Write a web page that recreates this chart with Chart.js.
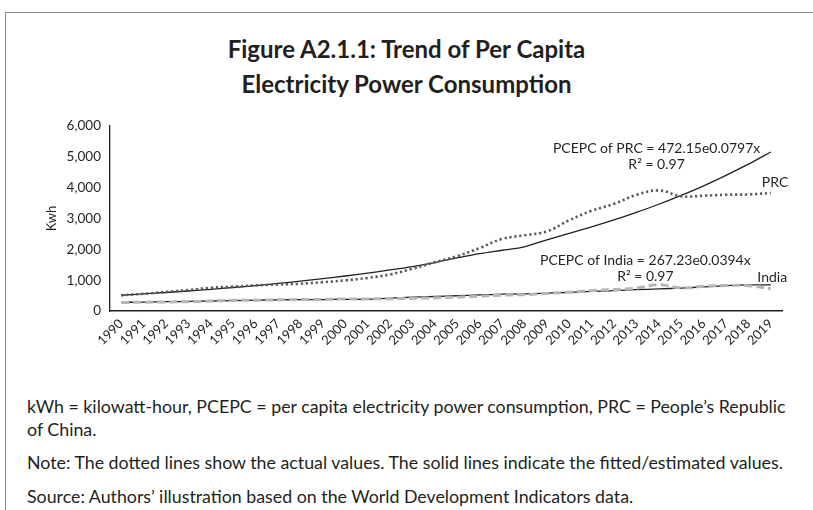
<!DOCTYPE html>
<html>
<head>
<meta charset="utf-8">
<script src="https://cdn.jsdelivr.net/npm/chart.js@4"></script>
<style>
  html, body { margin: 0; padding: 0; background: #fff; }
  body { width: 813px; height: 510px; position: relative; overflow: hidden; font-family: Lato, "Open Sans", sans-serif; color: #231f20; }
  .frame { position: absolute; left: 5px; top: 12px; width: 900px; height: 600px; border-left: 1px solid #8a8a8a; border-top: 1px solid #8a8a8a; }
  .title { position: absolute; left: 0; width: 813px; top: 31px; text-align: center; font-weight: bold; font-size: 24px; line-height: 35px; }
  .chart-box { position: absolute; left: 0; top: 100px; width: 813px; height: 255px; }
  .note { position: absolute; left: 27px; font-size: 17.8px; line-height: 23px; white-space: nowrap; }
</style>
</head>
<body>
<div class="frame"></div>
<div class="title">Figure A2.1.1: Trend of Per Capita<br>Electricity Power Consumption</div>
<div class="chart-box"><canvas id="trendChart" width="813" height="255"></canvas></div>
<div class="note" style="top:395px">kWh = kilowatt-hour, PCEPC = per capita electricity power consumption, PRC = People’s Republic<br>of China.</div>
<div class="note" style="top:451px">Note: The dotted lines show the actual values. The solid lines indicate the fitted/estimated values.</div>
<div class="note" style="top:485px">Source: Authors’ illustration based on the World Development Indicators data.</div>
<script>
const years = ["1990","1991","1992","1993","1994","1995","1996","1997","1998","1999",
  "2000","2001","2002","2003","2004","2005","2006","2007","2008","2009",
  "2010","2011","2012","2013","2014","2015","2016","2017","2018","2019"];

// actual values (dotted / dashed)
const prcActual = [511, 558, 619, 683, 754, 790, 830, 860, 885, 935,
  993, 1073, 1185, 1368, 1582, 1779, 2042, 2335, 2455, 2580,
  2944, 3250, 3475, 3766, 3910, 3720, 3740, 3770, 3780, 3825];
const indiaActual = [273, 286, 294, 302, 322, 345, 350, 361, 375, 377,
  392, 392, 399, 411, 426, 449, 480, 514, 530, 570,
  609, 660, 697, 741, 850, 750, 800, 825, 820, 725];

// fitted values (solid)
const prcFitted = [511, 554, 600, 649, 703, 762, 825, 893, 967, 1048,
  1135, 1229, 1331, 1441, 1570, 1720, 1860, 1970, 2080, 2310,
  2520, 2730, 2955, 3200, 3462, 3750, 4060, 4400, 4762, 5157];
const indiaFitted = [278, 289, 301, 313, 325, 338, 352, 362, 368, 372,
  376, 382, 420, 450, 470, 495, 520, 545, 555, 580,
  605, 635, 660, 690, 715, 745, 780, 820, 845, 850];

const yTicks = [0, 1000, 2000, 3000, 4000, 5000, 6000];

const FONT = "Lato, 'Open Sans', sans-serif";

const annotations = {
  id: "annotations",
  afterDatasetsDraw(chart) {
    const ctx = chart.ctx;
    const x = chart.scales.x;
    const y = chart.scales.y;
    ctx.save();
    ctx.fillStyle = "#231f20";
    ctx.font = "14px " + FONT;
    ctx.textBaseline = "middle";
    ctx.textAlign = "center";
    ctx.fillText("PCEPC of PRC = 472.15e0.0797x", x.getPixelForValue(23.9), y.getPixelForValue(5280));
    ctx.fillText("R² = 0.97", x.getPixelForValue(23.9), y.getPixelForValue(4760));
    ctx.fillText("PCEPC of India = 267.23e0.0394x", x.getPixelForValue(23.4), y.getPixelForValue(1640));
    ctx.fillText("R² = 0.97", x.getPixelForValue(23.4), y.getPixelForValue(1130));
    ctx.textAlign = "left";
    ctx.fillText("PRC", x.getPixelForValue(28.6), y.getPixelForValue(4170));
    ctx.fillText("India", x.getPixelForValue(28.4), y.getPixelForValue(1080));
    ctx.restore();
  }
};

new Chart(document.getElementById("trendChart"), {
  type: "line",
  data: {
    labels: years,
    datasets: [
      {
        label: "India (actual)",
        data: indiaActual,
        borderColor: "#b5b5b5",
        borderWidth: 3,
        borderDash: [8, 4],
        tension: 0.4,
        pointRadius: 0
      },
      {
        label: "India (fitted)",
        data: indiaFitted,
        borderColor: "#231f20",
        borderWidth: 1.3,
        tension: 0.3,
        pointRadius: 0
      },
      {
        label: "PRC (actual)",
        data: prcActual,
        borderColor: "#58595b",
        borderWidth: 2.6,
        borderDash: [2.2, 2.8],
        tension: 0.4,
        pointRadius: 0
      },
      {
        label: "PRC (fitted)",
        data: prcFitted,
        borderColor: "#231f20",
        borderWidth: 1.3,
        tension: 0.3,
        pointRadius: 0
      }
    ]
  },
  options: {
    responsive: false,
    animation: false,
    layout: { padding: { left: 0, right: 31, top: 26, bottom: 0 } },
    plugins: {
      legend: { display: false },
      tooltip: { enabled: false }
    },
    scales: {
      x: {
        offset: true,
        grid: { display: false, drawTicks: false },
        border: { color: "#231f20", width: 1.5 },
        ticks: {
          color: "#231f20",
          font: { family: FONT, size: 13 },
          maxRotation: 45,
          minRotation: 45,
          autoSkip: false,
          padding: 5
        },
        afterFit(scale) { scale.height = 44; }
      },
      y: {
        min: 0,
        max: 6000,
        afterBuildTicks(scale) { scale.ticks = yTicks.map(v => ({ value: v })); },
        grid: { display: false, drawTicks: true, tickLength: 5, tickColor: "#231f20" },
        border: { color: "#231f20", width: 1.3 },
        ticks: {
          color: "#231f20",
          font: { family: FONT, size: 13.5 },
          padding: 4,
          callback: v => v.toLocaleString("en-US")
        },
        title: {
          display: true,
          text: "Kwh",
          color: "#231f20",
          font: { family: FONT, size: 13 },
          padding: { top: 44, bottom: 8 }
        },
        afterFit(scale) { scale.width = 110; }
      }
    }
  },
  plugins: [annotations]
});
</script>
</body>
</html>
